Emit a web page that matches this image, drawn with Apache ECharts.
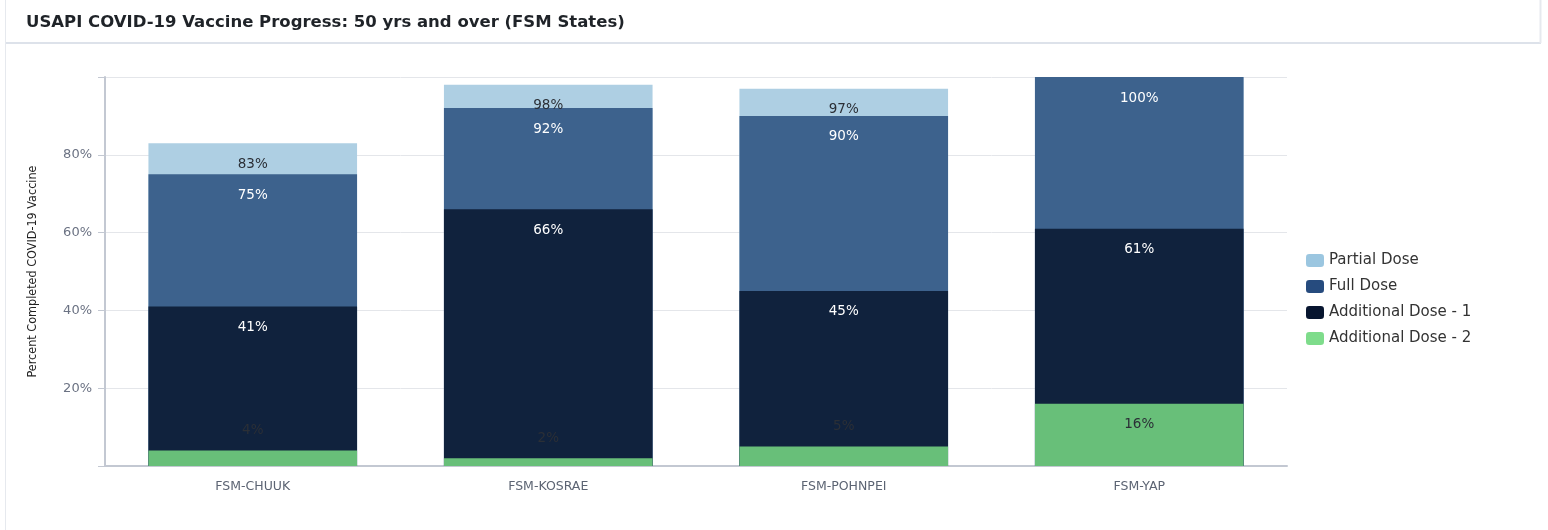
<!DOCTYPE html>
<html>
<head>
<meta charset="utf-8">
<script src="https://cdn.jsdelivr.net/npm/echarts@6/dist/echarts.min.js"></script>
<style>
  html, body { margin: 0; padding: 0; background: #fff; }
  #chart { width: 1548px; height: 530px; }
</style>
</head>
<body>
<div id="chart"></div>
<script>
  const categories = ['FSM-CHUUK', 'FSM-KOSRAE', 'FSM-POHNPEI', 'FSM-YAP'];
  const partialDose = [83, 98, 97, 100];
  const fullDose = [75, 92, 90, 100];
  const additionalDose1 = [41, 66, 45, 61];
  const additionalDose2 = [4, 2, 5, 16];
  const yTicks = [0, 20, 40, 60, 80, 100];

  const labelFont = 'DejaVu Sans';

  function barLabel(color, pos) {
    return {
      show: true,
      position: pos || 'insideTop',
      distance: pos === 'top' ? 13 : 14,
      color: color,
      fontFamily: labelFont,
      fontSize: 13.5,
      formatter: p => p.value + '%'
    };
  }

  const chart = echarts.init(document.getElementById('chart'));
  chart.setOption({
    animation: false,
    title: {
      text: 'USAPI COVID-19 Vaccine Progress: 50 yrs and over (FSM States)',
      left: 21,
      top: 9,
      textStyle: {
        fontFamily: 'DejaVu Sans',
        fontSize: 16.5,
        fontWeight: 600,
        color: '#1f2328'
      }
    },
    graphic: [
      // panel borders
      { type: 'line', shape: { x1: 5, y1: 43, x2: 1541, y2: 43 }, style: { stroke: '#dde2ea', lineWidth: 2 } },
      { type: 'line', shape: { x1: 5.5, y1: 0, x2: 5.5, y2: 530 }, style: { stroke: '#e6e9ee', lineWidth: 1 } },
      { type: 'line', shape: { x1: 1540.5, y1: 0, x2: 1540.5, y2: 43 }, style: { stroke: '#e6e9ee', lineWidth: 2 } }
    ],
    legend: {
      orient: 'vertical',
      left: 1301,
      top: 248,
      itemWidth: 18,
      itemHeight: 13,
      itemGap: 11,
      textStyle: { fontFamily: 'DejaVu Sans', fontSize: 15, color: '#333' },
      data: [
        { name: 'Partial Dose', itemStyle: { color: '#9bc6e0' } },
        { name: 'Full Dose', itemStyle: { color: '#264b7e' } },
        { name: 'Additional Dose - 1', itemStyle: { color: '#07152f' } },
        { name: 'Additional Dose - 2', itemStyle: { color: '#7edc8b' } }
      ]
    },
    grid: { left: 105, right: 261, top: 77, bottom: 64 },
    xAxis: {
      type: 'category',
      data: categories,
      axisLine: { lineStyle: { color: '#c3c8d2', width: 2 } },
      axisTick: { alignWithLabel: true, length: 6, lineStyle: { color: '#8a909c' } },
      axisLabel: { margin: 14, fontFamily: 'DejaVu Sans', fontSize: 12.5, color: '#5c6473' }
    },
    yAxis: {
      type: 'value',
      min: yTicks[0],
      max: yTicks[yTicks.length - 1],
      interval: 20,
      name: 'Percent Completed COVID-19 Vaccine',
      nameLocation: 'middle',
      nameGap: 66,
      nameTextStyle: { fontFamily: 'DejaVu Sans Condensed, DejaVu Sans', fontSize: 12.5, color: '#222' },
      axisLine: { show: true, lineStyle: { color: '#c3c8d2', width: 2 } },
      axisTick: { show: true, length: 7, lineStyle: { color: '#c3c8d2' } },
      axisLabel: {
        margin: 13,
        fontFamily: 'DejaVu Sans',
        fontSize: 13,
        color: '#6b7283',
        formatter: v => (v === 0 || v === 100) ? '' : v + '%'
      },
      splitLine: { lineStyle: { color: '#e4e6ea' } }
    },
    series: [
      {
        name: 'Partial Dose',
        type: 'bar',
        barWidth: '70.6%',
        barGap: '-100%',
        itemStyle: { color: '#aecfe3' },
        data: partialDose.map((v, i) => ({
          value: v,
          label: Object.assign(barLabel('#2b2f36'), { show: v !== fullDose[i] })
        }))
      },
      {
        name: 'Full Dose',
        type: 'bar',
        barWidth: '70.6%',
        barGap: '-100%',
        itemStyle: { color: '#3d628d' },
        label: barLabel('#ffffff'),
        data: fullDose
      },
      {
        name: 'Additional Dose - 1',
        type: 'bar',
        barWidth: '70.6%',
        barGap: '-100%',
        itemStyle: { color: '#10223d' },
        label: barLabel('#ffffff'),
        data: additionalDose1
      },
      {
        name: 'Additional Dose - 2',
        type: 'bar',
        barWidth: '70.6%',
        barGap: '-100%',
        itemStyle: { color: '#68bf79' },
        data: additionalDose2.map(v => ({
          value: v,
          label: barLabel('#2b2f36', v < 10 ? 'top' : 'insideTop')
        }))
      }
    ]
  });
</script>
</body>
</html>
